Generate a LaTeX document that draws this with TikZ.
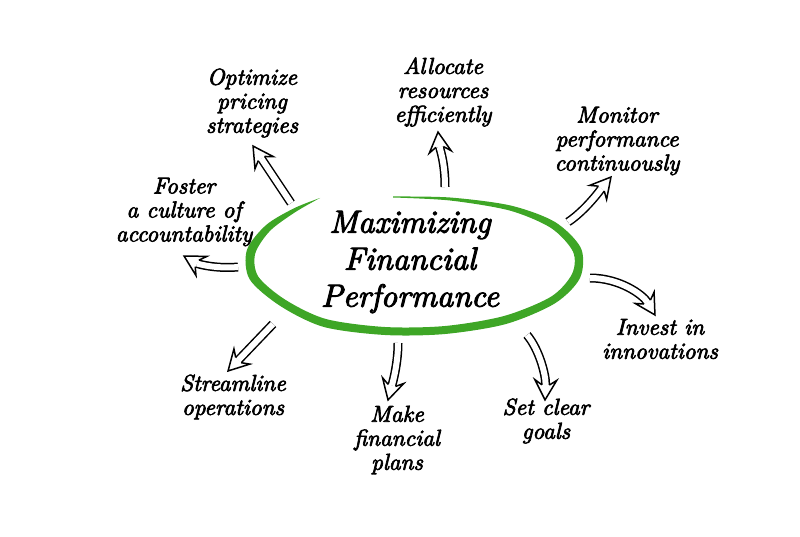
\documentclass[tikz,border=0pt]{standalone}
\usepackage{fontspec}
\newfontface\goalfont{lmroman10-italic.otf}[FakeBold=3]
\usetikzlibrary{decorations.markings}
\definecolor{brushgreen}{RGB}{62,166,38}

\begin{document}
\begin{tikzpicture}[x=1pt,y=-1pt,
    goal/.style={font=\goalfont\fontsize{23}{24}\selectfont,align=center,inner sep=0pt},
    hollow/.style={draw=white,line width=6pt,shorten >=15pt,
      preaction={draw=black,line width=9pt,shorten >=15pt},
      postaction={decorate,decoration={markings,mark=at position 0.999 with {
        \filldraw[draw=black,fill=white,line width=1.5pt,shorten >=0pt,line join=miter]
          (-15pt,3.75pt) -- (-20pt,11pt) -- (0pt,0pt) -- (-20pt,-11pt) -- (-15pt,-3.75pt);}}}}]
      \useasboundingbox (0,0) rectangle (800,537);
      % brush stroke round the title
      \fill[brushgreen] plot[smooth] coordinates {(393,196.5) (450,197.5) (510.5,205.5) (555,222)
          (581,248.3) (580,278) (555,303.3) (506,324) (445,334) (385,335) (324,327)
          (280.6,306.2) (249.7,279.4) (246.8,250.3) (265.9,225.2) (294.2,208.2) (320,198)}
        -- plot[smooth] coordinates {(320,198) (295.8,211.8) (270.1,230.8) (255.2,253.7)
          (258.3,276.6) (285.4,299.8) (326,319) (385,327) (445,326) (504,316) (551,296.7)
          (572,274) (573,251.7) (551,228) (509.5,210.5) (450,200.5) (393,197.5)} -- cycle;
      % arrow ends
      \coordinate (opt-a) at (291,203);  \coordinate (opt-b) at (253,146);
      \coordinate (all-a) at (445,187);  \coordinate (all-b) at (438,132);
      \coordinate (mon-a) at (568,222);  \coordinate (mon-b) at (611,177);
      \coordinate (inv-a) at (590,278);  \coordinate (inv-b) at (655,315);
      \coordinate (set-a) at (527,335);  \coordinate (set-b) at (545,400);
      \coordinate (mak-a) at (398,343);  \coordinate (mak-b) at (388,400);
      \coordinate (str-a) at (273,324);  \coordinate (str-b) at (228,371);
      \coordinate (fos-a) at (238,267);  \coordinate (fos-b) at (184,256);
      \draw[hollow] (opt-a) -- (opt-b);
      \draw[hollow] (all-a) .. controls +(0,-25) and +(2,18) .. (all-b);
      \draw[hollow] (mon-a) .. controls +(18,-12) and +(-10,12) .. (mon-b);
      \draw[hollow] (inv-a) .. controls +(30,0) and +(-12,-20) .. (inv-b);
      \draw[hollow] (set-a) .. controls +(12,14) and +(1,-25) .. (set-b);
      \draw[hollow] (mak-a) .. controls +(0,22) and +(4,-15) .. (mak-b);
      \draw[hollow] (str-a) -- (str-b);
      \draw[hollow] (fos-a) .. controls +(-22,2) and +(14,8) .. (fos-b);
      % the title and the eight aims
      \node[font=\goalfont\fontsize{32}{37}\selectfont,align=center,inner sep=0pt]
        (title) at (410,262) {Maximizing\\Financial\\Performance};
      \node[goal] (optimize) at (252,103) {Optimize\\pricing\\strategies};
      \node[goal] (allocate) at (443,92) {Allocate\\resources\\efficiently};
      \node[goal] (monitor) at (617,141) {Monitor\\performance\\continuously};
      \node[goal] (foster) at (184,212) {Foster\\a culture of\\accountability};
      \node[goal] (invest) at (660,339) {Invest in\\innovations};
      \node[goal] (setgoals) at (546,421) {Set clear\\goals};
      \node[goal] (make) at (397,440) {Make\\financial\\plans};
      \node[goal] (streamline) at (233,397) {Streamline\\operations};
\end{tikzpicture}
\end{document}
